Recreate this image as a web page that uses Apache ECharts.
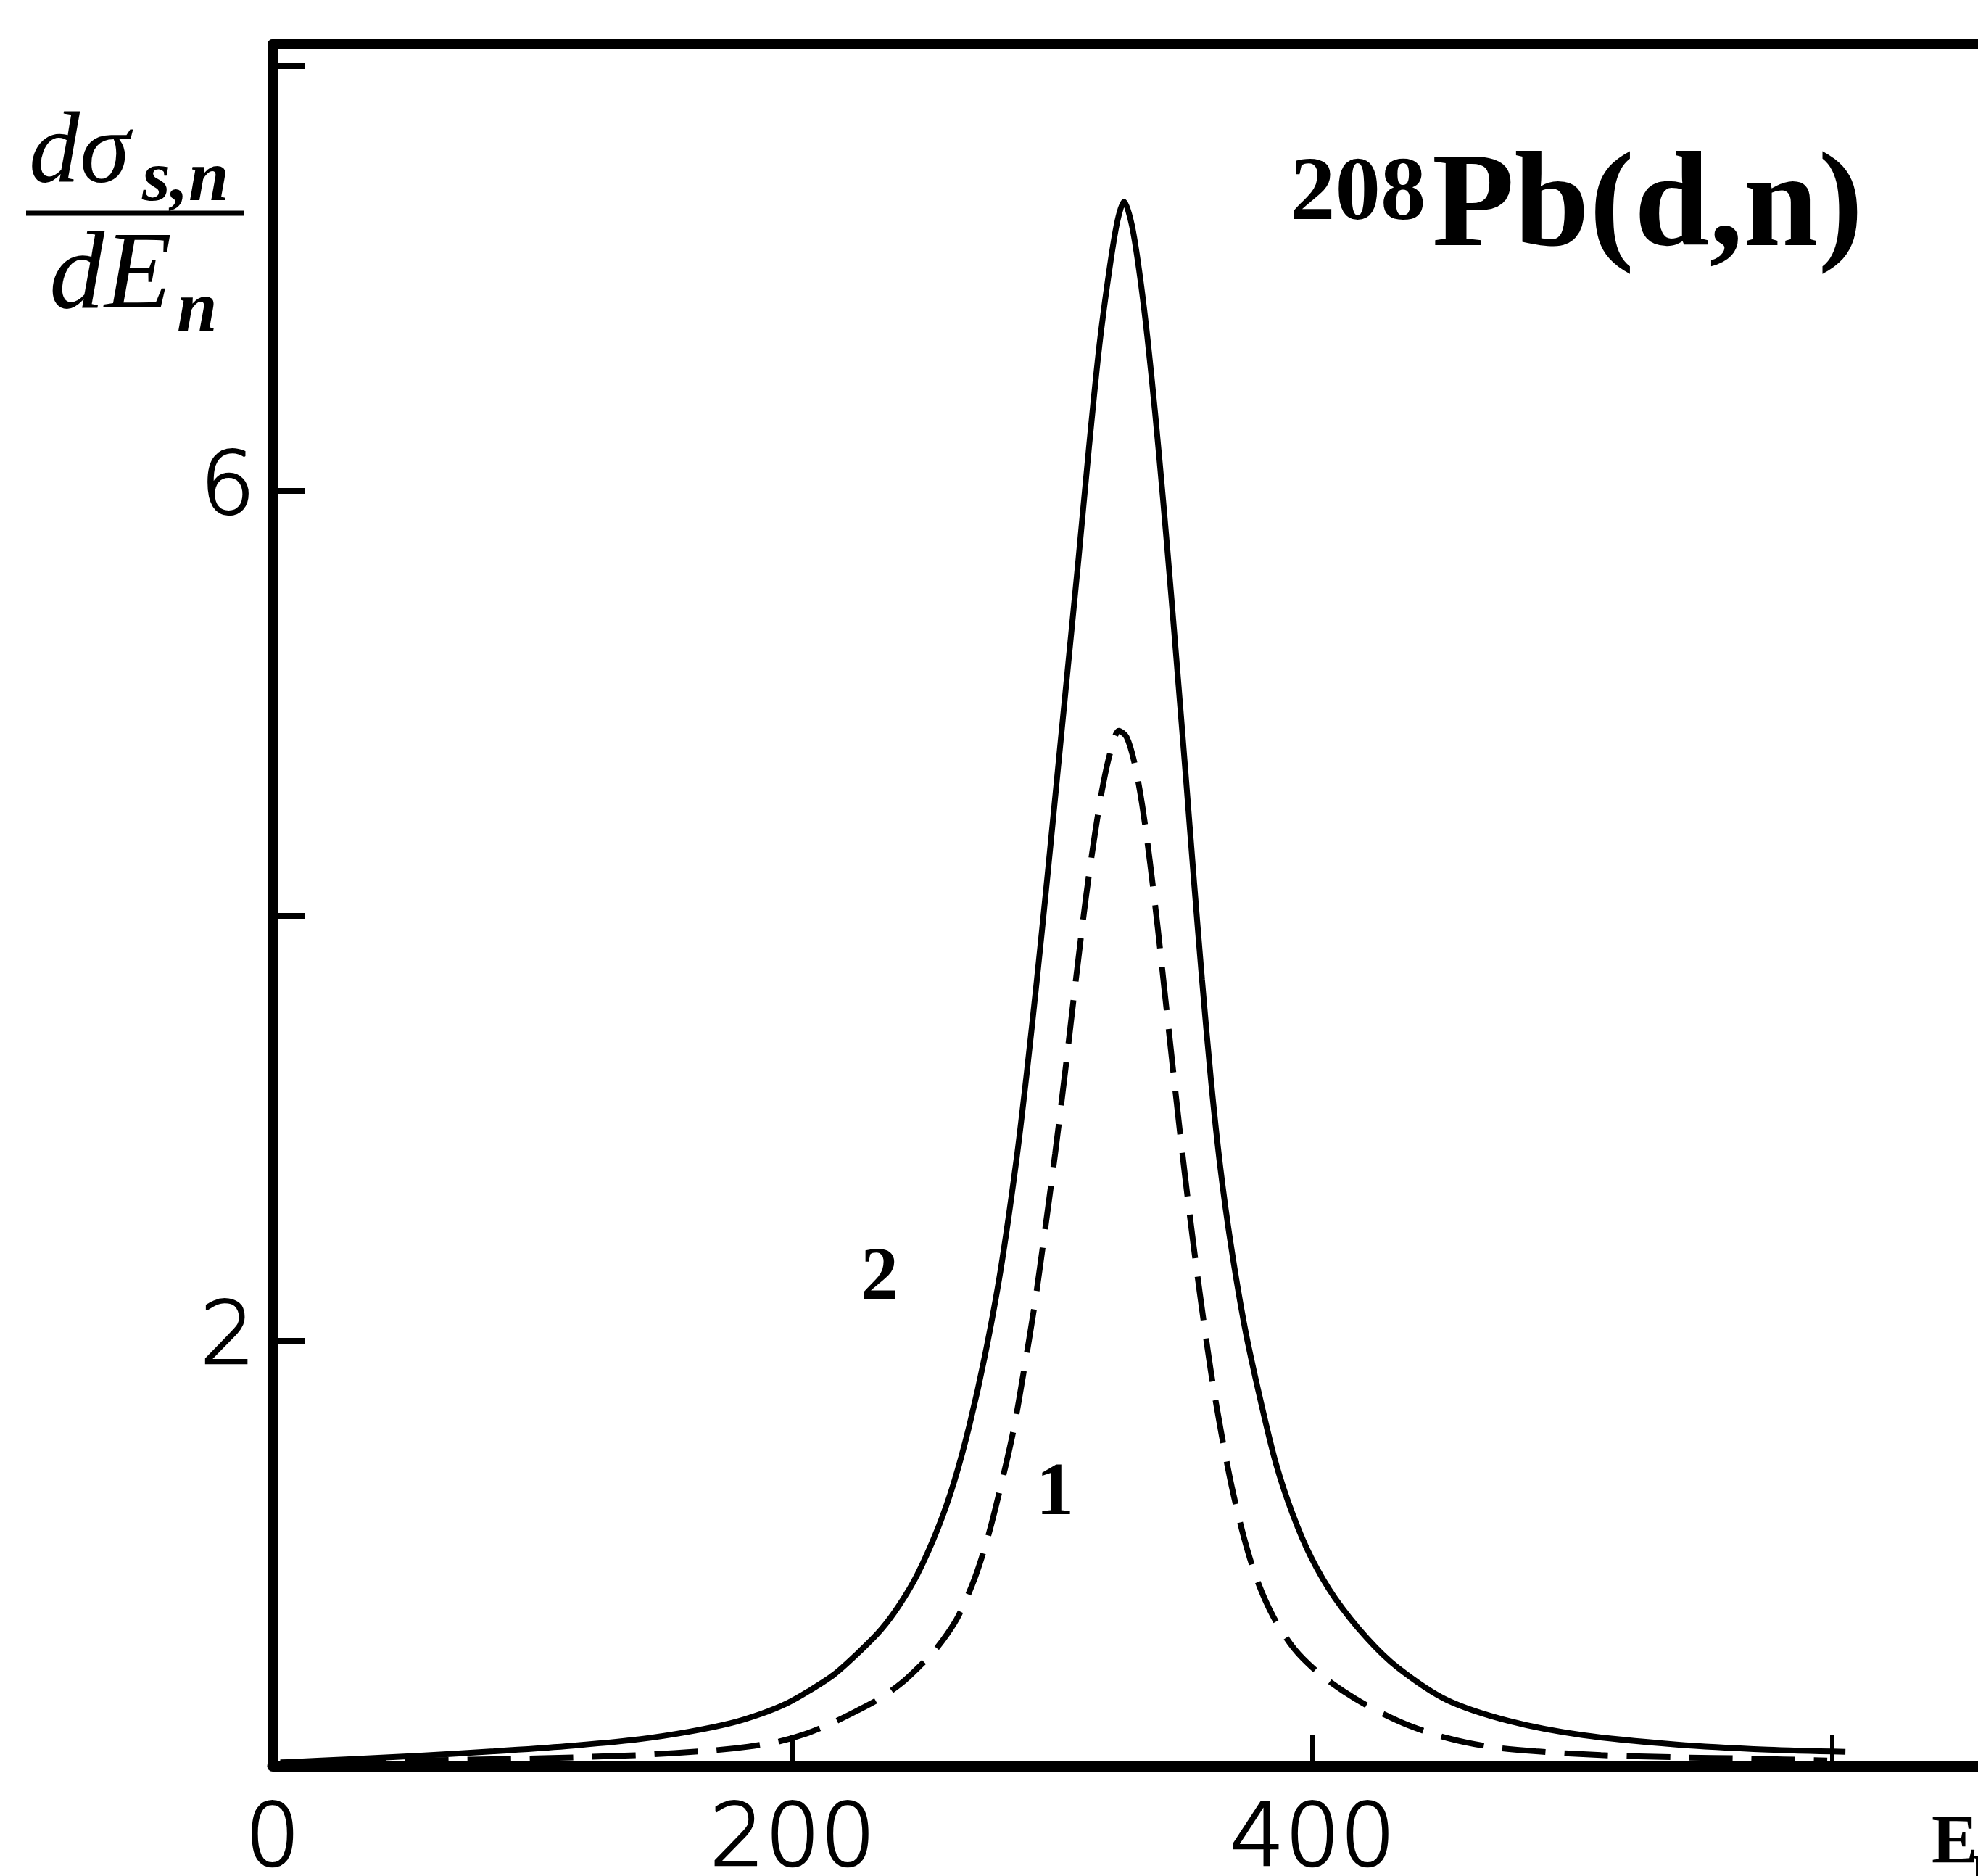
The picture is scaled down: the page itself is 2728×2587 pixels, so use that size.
<!DOCTYPE html>
<html>
<head>
<meta charset="utf-8">
<script src="https://cdn.jsdelivr.net/npm/echarts@6/dist/echarts.min.js"></script>
<style>
  html, body { margin: 0; padding: 0; background: #fff; }
  #chart { width: 2728px; height: 2587px; }
</style>
</head>
<body>
<div id="chart"></div>
<script>
// ---- Data ----
// Curve 2 (solid line)
const curve2X = [3, 28, 56, 85, 113, 141, 160, 176, 188, 198, 206, 216, 226, 234, 241, 248, 256, 262, 268, 274, 280, 286, 290, 294, 298, 302, 306, 310, 314, 318, 322, 325, 327.5, 330.5, 333.5, 336.5, 339.5, 342.5, 345.5, 348.5, 351.5, 354.5, 357.5, 361, 364.5, 368.5, 374, 380, 386, 392.5, 399.5, 408.6, 421, 433, 451.6, 475.8, 504, 540, 575, 605];
const curve2Y = [0.015, 0.03, 0.047, 0.068, 0.092, 0.125, 0.16, 0.20, 0.245, 0.295, 0.35, 0.43, 0.54, 0.64, 0.755, 0.90, 1.12, 1.33, 1.60, 1.93, 2.33, 2.84, 3.25, 3.70, 4.18, 4.68, 5.18, 5.68, 6.20, 6.68, 7.05, 7.27, 7.36, 7.25, 7.02, 6.72, 6.36, 5.96, 5.53, 5.08, 4.62, 4.15, 3.70, 3.22, 2.82, 2.46, 2.06, 1.72, 1.42, 1.18, 0.98, 0.79, 0.60, 0.46, 0.31, 0.21, 0.144, 0.10, 0.076, 0.066];
// Curve 1 (dashed line)
const curve1X = [3, 55, 98, 140, 169, 183, 195, 205, 215, 225, 234, 242, 249, 254.5, 259.5, 264, 270, 275, 280, 285, 289, 293, 297, 301, 305, 309, 313, 316.5, 319.5, 322.5, 325.5, 328.5, 331.5, 334.5, 337.5, 340.5, 343.5, 346.5, 349.5, 352.5, 355.5, 358.5, 361.5, 365, 369, 373.5, 378.5, 385, 393, 402, 412, 423, 437, 452, 468, 486, 511, 540, 568, 598];
const curve1Y = [0.015, 0.025, 0.034, 0.05, 0.072, 0.09, 0.115, 0.15, 0.20, 0.26, 0.32, 0.39, 0.47, 0.54, 0.62, 0.71, 0.88, 1.07, 1.31, 1.58, 1.86, 2.16, 2.51, 2.88, 3.28, 3.70, 4.10, 4.40, 4.62, 4.78, 4.87, 4.84, 4.72, 4.52, 4.25, 3.94, 3.60, 3.26, 2.93, 2.62, 2.33, 2.06, 1.81, 1.56, 1.31, 1.08, 0.88, 0.70, 0.55, 0.44, 0.35, 0.27, 0.19, 0.13, 0.09, 0.068, 0.05, 0.04, 0.034, 0.025];
// Axis ticks / labels
const xTickValues = [200, 400, 600];
const xLabelValues = [0, 200, 400];
const yTickValues = [2, 4, 6, 8];
const yLabelValues = [2, 6];
const xRange = [0, 656];
const yRange = [0, 8.1];
const titleSup = '208';
const titleMain = 'Pb(d,n)';
const curveLabels = ['1', '2'];

const zip = (xs, ys) => xs.map((x, i) => [x, ys[i]]);

const chart = echarts.init(document.getElementById('chart'));
const tickFont = { fontFamily: 'DejaVu Sans', fontWeight: 200, fontSize: 120, color: '#000', textBorderColor: '#000', textBorderWidth: 2.5 };

chart.setOption({
  backgroundColor: '#fff',
  animation: false,
  grid: { left: 376, right: 0, top: 61, bottom: 152, containLabel: false, outerBoundsMode: 'none' },
  xAxis: [
    {
      type: 'value', position: 'bottom', min: xRange[0], max: xRange[1],
      axisLine: { show: true, lineStyle: { color: '#000', width: 15 } },
      axisTick: { show: true, inside: true, length: 42, customValues: xTickValues, lineStyle: { color: '#000', width: 6 } },
      axisLabel: Object.assign({ show: true, margin: 46, customValues: xLabelValues }, tickFont),
      splitLine: { show: false }
    },
    {
      type: 'value', position: 'top', min: xRange[0], max: xRange[1],
      axisLine: { show: true, lineStyle: { color: '#000', width: 14 } },
      axisTick: { show: false }, axisLabel: { show: false }, splitLine: { show: false }
    }
  ],
  yAxis: {
    type: 'value', min: yRange[0], max: yRange[1],
    axisLine: { show: true, lineStyle: { color: '#000', width: 14 } },
    axisTick: { show: true, inside: true, length: 44, customValues: yTickValues, lineStyle: { color: '#000', width: 8 } },
    axisLabel: Object.assign({ show: true, margin: 24, customValues: yLabelValues }, tickFont),
    splitLine: { show: false }
  },
  series: [
    {
      name: '2', type: 'line', data: zip(curve2X, curve2Y), symbol: 'none',
      smooth: 0.3,
      lineStyle: { color: '#000', width: 8, type: 'solid' }
    },
    {
      name: '1', type: 'line', data: zip(curve1X, curve1Y), symbol: 'none',
      smooth: 0.3,
      lineStyle: { color: '#000', width: 8, type: [60, 26] }
    }
  ],
  graphic: [
    // y-axis label: dσ_{s,n} / dE_n
    { type: 'text', style: { text: 'dσ', x: 40, y: 214, font: 'italic 140px "Liberation Serif"', fill: '#000', textVerticalAlign: 'middle' } },
    { type: 'text', style: { text: 's,n', x: 196, y: 250, font: 'italic bold 100px "Liberation Serif"', fill: '#000', textVerticalAlign: 'middle' } },
    { type: 'line', shape: { x1: 36, y1: 294, x2: 337, y2: 294 }, style: { stroke: '#000', lineWidth: 7 } },
    { type: 'text', style: { text: 'dE', x: 68, y: 384, font: 'italic 152px "Liberation Serif"', fill: '#000', textVerticalAlign: 'middle' } },
    { type: 'text', style: { text: 'n', x: 244, y: 430, font: 'italic bold 100px "Liberation Serif"', fill: '#000', textVerticalAlign: 'middle' } },
    // title
    { type: 'text', style: { text: titleSup, x: 1779, y: 270, font: 'bold 125px "Liberation Serif"', fill: '#000', textVerticalAlign: 'middle' } },
    { type: 'text', style: { text: titleMain, x: 1975, y: 290, font: 'bold 186px "Liberation Serif"', fill: '#000', textVerticalAlign: 'middle' } },
    // curve labels
    { type: 'text', style: { text: curveLabels[1], x: 1213, y: 1764, font: 'bold 104px "Liberation Serif"', fill: '#000', textAlign: 'center', textVerticalAlign: 'middle' } },
    { type: 'text', style: { text: curveLabels[0], x: 1455, y: 2061, font: 'bold 104px "Liberation Serif"', fill: '#000', textAlign: 'center', textVerticalAlign: 'middle' } },
    // x-axis label E_n
    { type: 'text', style: { text: 'E', x: 2664, y: 2544, font: 'bold 96px "Liberation Serif"', fill: '#000', textVerticalAlign: 'middle' } },
    { type: 'text', style: { text: 'n', x: 2720, y: 2574, font: 'bold 70px "Liberation Serif"', fill: '#000', textVerticalAlign: 'middle' } }
  ]
});
</script>
</body>
</html>
